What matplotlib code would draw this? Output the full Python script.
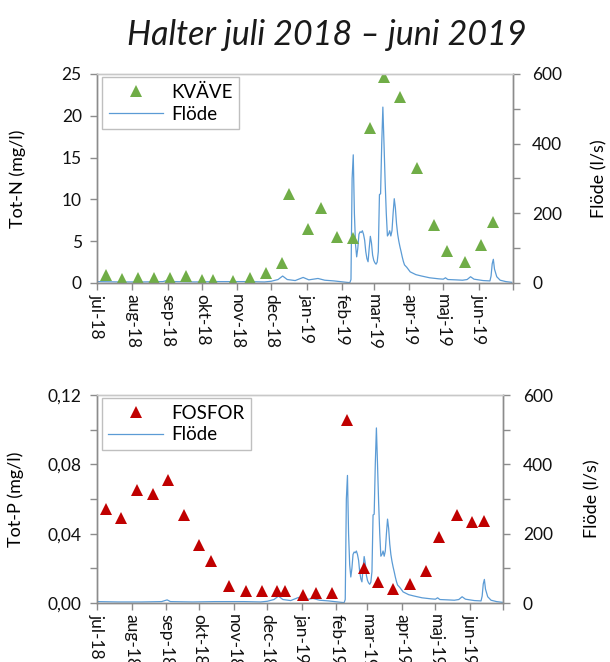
import datetime as dt

import matplotlib
matplotlib.use("Agg")
import matplotlib.pyplot as plt
import matplotlib.dates as mdates
from matplotlib.lines import Line2D
from matplotlib.ticker import FixedLocator

plt.rcParams["font.family"] = ["Lato", "DejaVu Sans"]

# Sampling dates for the water-quality samples
sample_dates = [
    "2018-07-09", "2018-07-23", "2018-08-06", "2018-08-20", "2018-09-03",
    "2018-09-17", "2018-10-01", "2018-10-11", "2018-10-28", "2018-11-12",
    "2018-11-26", "2018-12-10", "2018-12-17", "2019-01-02", "2019-01-14",
    "2019-01-28", "2019-02-11", "2019-02-26", "2019-03-10", "2019-03-24",
    "2019-04-08", "2019-04-23", "2019-05-04", "2019-05-20", "2019-06-03",
    "2019-06-14",
]

# Total nitrogen (mg/l)
kvave = [
    1.0, 0.5, 0.6, 0.55, 0.6, 0.85, 0.4, 0.3, 0.25, 0.6,
    1.2, 2.4, 10.6, 6.5, 9.0, 5.5, 5.4, 18.6, 24.6, 22.2,
    13.7, 6.9, 3.8, 2.5, 4.6, 7.3,
]

# Total phosphorus (mg/l)
fosfor = [
    0.054, 0.049, 0.065, 0.063, 0.071, 0.051, 0.0335, 0.024, 0.010, 0.0071,
    0.0069, 0.0071, 0.0067, 0.0046, 0.006, 0.0056, 0.1056, 0.020, 0.012, 0.0083,
    0.0111, 0.0185, 0.038, 0.051, 0.0466, 0.0471,
]

# Discharge (l/s)
flow_dates = [
    "2018-07-01", "2018-07-20", "2018-08-10", "2018-08-28", "2018-09-02",
    "2018-09-05", "2018-09-25", "2018-10-15", "2018-11-10", "2018-11-25",
    "2018-12-01", "2018-12-07", "2018-12-11", "2018-12-15", "2018-12-22",
    "2018-12-29", "2019-01-03", "2019-01-11", "2019-01-17", "2019-01-25",
    "2019-02-05", "2019-02-08", "2019-02-09", "2019-02-10", "2019-02-11",
    "2019-02-12", "2019-02-13", "2019-02-14", "2019-02-15", "2019-02-16",
    "2019-02-17", "2019-02-18", "2019-02-19", "2019-02-20", "2019-02-21",
    "2019-02-22", "2019-02-23", "2019-02-24", "2019-02-25", "2019-02-26",
    "2019-02-27", "2019-02-28", "2019-03-01", "2019-03-02", "2019-03-03",
    "2019-03-04", "2019-03-05", "2019-03-06", "2019-03-07", "2019-03-08",
    "2019-03-09", "2019-03-10", "2019-03-11", "2019-03-12", "2019-03-13",
    "2019-03-14", "2019-03-15", "2019-03-16", "2019-03-17", "2019-03-18",
    "2019-03-19", "2019-03-20", "2019-03-21", "2019-03-22", "2019-03-23",
    "2019-03-24", "2019-03-25", "2019-03-26", "2019-03-27", "2019-03-28",
    "2019-03-30", "2019-04-02", "2019-04-07", "2019-04-12", "2019-04-19",
    "2019-04-27", "2019-05-01", "2019-05-03", "2019-05-05", "2019-05-12",
    "2019-05-18", "2019-05-22", "2019-05-25", "2019-05-28", "2019-06-05",
    "2019-06-11", "2019-06-12", "2019-06-13", "2019-06-14", "2019-06-15",
    "2019-06-17", "2019-06-20", "2019-06-25", "2019-06-30",
]
flow_values = [
    4, 3, 3, 4, 9,
    4, 3, 4, 4, 3,
    5, 10, 20, 10, 7,
    16, 9, 13, 8, 6,
    2, 1, 10, 300, 368,
    200, 110, 75, 100, 140,
    147, 145, 150, 140, 123,
    90, 70, 61, 100, 134,
    115, 80, 65, 58, 54,
    60, 90, 254, 256, 400,
    505, 400, 290, 200, 135,
    140, 150, 135, 150, 200,
    242, 215, 170, 140, 120,
    104, 90, 75, 62, 52,
    45, 32, 24, 20, 15,
    12, 11, 15, 10, 9,
    8, 10, 18, 11, 7,
    6, 20, 55, 68, 40,
    18, 8, 4, 2,
]

month_labels = ["jul-18", "aug-18", "sep-18", "okt-18", "nov-18", "dec-18",
                "jan-19", "feb-19", "mar-19", "apr-19", "maj-19", "jun-19"]

n_ticks = [0, 5, 10, 15, 20, 25]
n_labels = ["0", "5", "10", "15", "20", "25"]
p_ticks = [0.0, 0.04, 0.08, 0.12]
p_labels = ["0,00", "0,04", "0,08", "0,12"]
q_ticks = [0, 200, 400, 600]
q_labels = ["0", "200", "400", "600"]

to_date = lambda s: dt.datetime.strptime(s, "%Y-%m-%d")
s_dates = [to_date(s) for s in sample_dates]
f_dates = [to_date(s) for s in flow_dates]
month_starts = [dt.datetime(2018 + (6 + i) // 12, (6 + i) % 12 + 1, 1) for i in range(13)]

AXIS_GREY = "#8C8C8C"
FLOW_BLUE = "#5B9BD5"
W, H = 610, 662

fig = plt.figure(figsize=(W / 100, H / 100), dpi=100)
fig.text(327 / W, 1 - 45 / H, "Halter juli 2018 \u2013 juni 2019", ha="center",
         va="baseline", fontsize=24.5, style="italic", weight="normal", color="#1a1a1a")


def panel(rect, conc, color, name, ylim, yticks, ylabels, yminor, ylabel, label_x, rlabel_x):
    l, b, r, t = rect
    ax = fig.add_axes([l / W, 1 - b / H, (r - l) / W, (b - t) / H])
    ax2 = ax.twinx()
    ax.set_zorder(ax2.get_zorder() + 1)
    ax.patch.set_visible(False)

    ax2.plot(f_dates, flow_values, color=FLOW_BLUE, lw=0.9, label="Flöde")
    ax2.set_ylim(0, 600)
    ax2.yaxis.set_major_locator(FixedLocator(q_ticks))
    ax2.set_yticklabels(q_labels)
    ax2.yaxis.set_minor_locator(FixedLocator([100, 300, 500]))
    ax2.set_ylabel("Flöde (l/s)", fontsize=13, rotation=90)
    ax2.yaxis.set_label_coords(rlabel_x, 0.5)

    ax.plot(s_dates, conc, linestyle="none", marker="^", markersize=8,
            color=color, markeredgewidth=0, label=name)
    ax.set_ylim(*ylim)
    ax.yaxis.set_major_locator(FixedLocator(yticks))
    ax.set_yticklabels(ylabels)
    if yminor:
        ax.yaxis.set_minor_locator(FixedLocator(yminor))
    ax.set_ylabel(ylabel, fontsize=13)
    ax.yaxis.set_label_coords(label_x, 0.5)

    ax.set_xlim(month_starts[0], month_starts[-1])
    ax.xaxis.set_major_locator(FixedLocator(mdates.date2num(month_starts)))
    ax.set_xticklabels(month_labels + [""], rotation=270, ha="center", va="top")

    for a in (ax, ax2):
        for side in ("left", "right", "bottom", "top"):
            a.spines[side].set_color(AXIS_GREY)
            a.spines[side].set_linewidth(1.0)
        a.spines["top"].set_color("#C8C8C8")
        a.tick_params(which="both", color=AXIS_GREY, length=5, width=1.0,
                      labelsize=12.5, labelcolor="#111111")
        a.tick_params(axis="y", pad=6)
    ax.tick_params(axis="x", pad=3)
    ax2.tick_params(axis="y", pad=9)

    handles = [Line2D([], [], linestyle="none", marker="^", markersize=8,
                      color=color, markeredgewidth=0),
               Line2D([], [], color=FLOW_BLUE, lw=0.9)]
    leg = ax.legend(handles, [name, "Flöde"], loc="upper left",
                    bbox_to_anchor=(0.012, 0.985), fontsize=13.5, frameon=True,
                    fancybox=False, framealpha=1, edgecolor="#BFBFBF",
                    handlelength=2.9, handletextpad=0.45, borderpad=0.35,
                    labelspacing=0.25, numpoints=1, borderaxespad=0)
    leg.get_frame().set_linewidth(1.0)
    return ax, ax2


panel((97, 283, 512.7, 74), kvave, "#70AD47", "KVÄVE", (0, 25), n_ticks, n_labels,
      None, "Tot-N (mg/l)", -0.17, 1.19)
panel((97, 603, 503.3, 395), fosfor, "#C00000", "FOSFOR", (0, 0.12), p_ticks, p_labels,
      [0.02, 0.06, 0.10], "Tot-P (mg/l)", -0.18, 1.2)

fig.savefig("out.png", dpi=100)
